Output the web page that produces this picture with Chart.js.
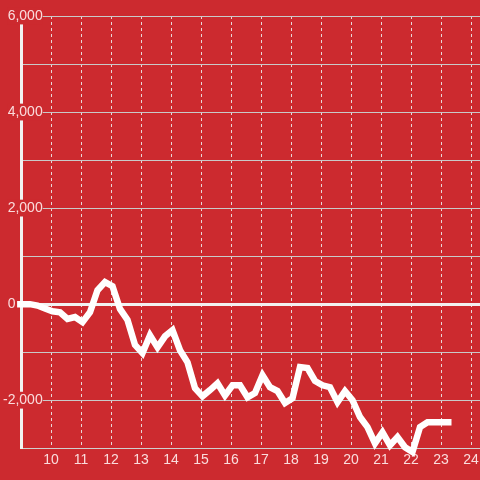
<!DOCTYPE html>
<html>
<head>
<meta charset="utf-8">
<script src="https://cdn.jsdelivr.net/npm/chart.js@4"></script>
<style>
  html, body {margin: 0; padding: 0; background: #cc2a2f;}
  #wrap {width: 480px; height: 480px;}
</style>
</head>
<body>
<div id="wrap"><canvas id="chart" width="480" height="480"></canvas></div>
<script>
const times = [8.87, 9.05, 9.3, 9.55, 9.8, 10.05, 10.3, 10.55, 10.8, 11.05, 11.3, 11.55, 11.8, 12.05,
               12.3, 12.55, 12.8, 13.05, 13.3, 13.55, 13.8, 14.05, 14.3, 14.55, 14.8, 15.05, 15.3,
               15.55, 15.8, 16.05, 16.3, 16.55, 16.8, 17.05, 17.3, 17.55, 17.8, 18.05, 18.3, 18.55,
               18.8, 19.05, 19.3, 19.55, 19.8, 20.05, 20.3, 20.55, 20.8, 21.05, 21.3, 21.55, 21.8,
               22.05, 22.3, 22.55, 22.8, 23.05, 23.35],
      values = [0, 0, 0, -30, -90, -150, -170, -310, -270, -375, -170, 290, 460, 375,
                -100, -330, -850, -1020, -650, -900, -670, -540, -960, -1210, -1750, -1920, -1790,
                -1650, -1900, -1690, -1690, -1940, -1850, -1480, -1730, -1810, -2060, -1960, -1310, -1330,
                -1600, -1690, -1730, -2040, -1810, -2000, -2350, -2560, -2900, -2670, -2940, -2770, -2980,
                -3080, -2560, -2460, -2460, -2460, -2460],
      xTicks = [10, 11, 12, 13, 14, 15, 16, 17, 18, 19, 20, 21, 22, 23, 24],
      yTicks = [-3000, -2000, -1000, 0, 1000, 2000, 3000, 4000, 5000, 6000],
      yLabelled = [-2000, 0, 2000, 4000, 6000];

const red = '#cc2a2f',
      textColor = 'rgba(255,240,240,0.9)',
      ctx = document.getElementById('chart').getContext('2d');

new Chart(ctx, {
    type: 'line',
    data: {
        datasets: [{
            data: times.map((t, i) => ({x: t, y: values[i]})),
            borderColor: '#ffffff',
            borderWidth: 6.5,
            pointRadius: 0,
            tension: 0,
            clip: false
        }]
    },
    options: {
        responsive: false,
        animation: false,
        layout: {padding: {left: 21, top: 16, right: 0, bottom: 7}},
        plugins: {legend: {display: false}, tooltip: {enabled: false}},
        scales: {
            x: {
                type: 'linear',
                min: 9,
                max: 24.3,
                afterBuildTicks: s => { s.ticks = xTicks.map(v => ({value: v})); },
                afterFit: s => { s.paddingLeft = 0; s.paddingRight = 0; },
                grid: {color: 'rgba(235,235,235,0.9)', lineWidth: 1, drawTicks: false},
                border: {display: true, color: '#cfcfcf', width: 1, dash: [3, 3]},
                ticks: {
                    color: textColor,
                    padding: 4,
                    maxRotation: 0,
                    autoSkip: false,
                    font: {family: 'Liberation Sans', size: 14}
                }
            },
            y: {
                position: 'left',
                min: -3000,
                max: 6000,
                afterBuildTicks: s => { s.ticks = yTicks.map(v => ({value: v})); },
                afterFit: s => { s.width = 0; },
                grid: {
                    color: c => c.tick && c.tick.value === 0 ? '#f2f2f2' : '#c9c9c9',
                    lineWidth: c => c.tick && c.tick.value === 0 ? 3 : 1,
                    drawTicks: false
                },
                border: {display: true, color: '#f2f2f2', width: 3},
                ticks: {
                    mirror: true,
                    crossAlign: 'far',
                    padding: -18,
                    autoSkip: false,
                    color: textColor,
                    font: {family: 'Liberation Sans', size: 14},
                    showLabelBackdrop: true,
                    backdropPadding: 0,
                    backdropColor: c => (c.tick && yLabelled.includes(c.tick.value) && c.tick.value !== 0) ? red : 'rgba(0,0,0,0)',
                    callback: v => {
                        if (!yLabelled.includes(v)) return '';
                        if (v === 0) return '0       ';
                        return v.toLocaleString('en-US');
                    }
                }
            }
        }
    }
});
</script>
</body>
</html>
